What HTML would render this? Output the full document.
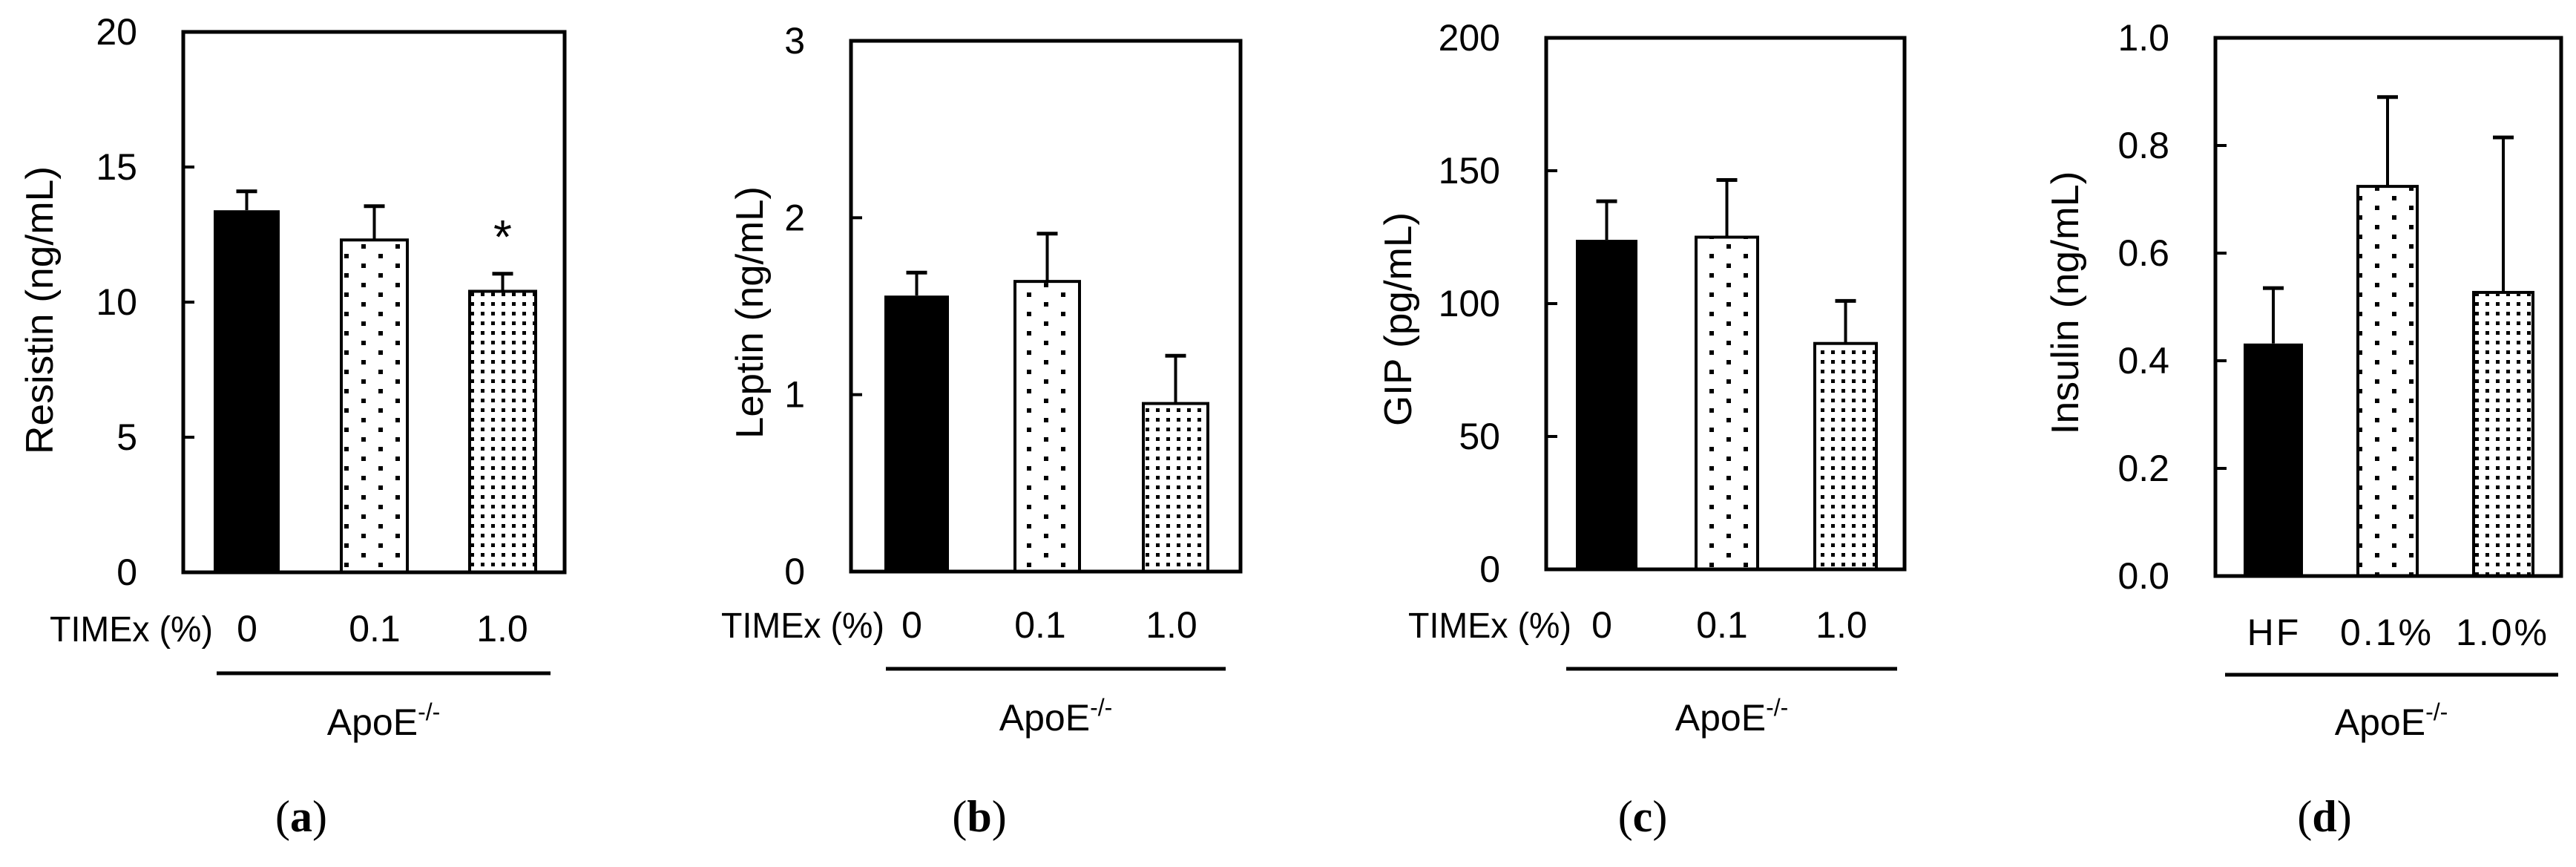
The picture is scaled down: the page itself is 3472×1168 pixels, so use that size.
<!DOCTYPE html>
<html><head><meta charset="utf-8">
<style>
html,body{margin:0;padding:0;background:#fff;}
svg{display:block;}
text{font-family:"Liberation Sans",sans-serif;fill:#000;}
</style></head>
<body>
<svg id="fig" width="3472" height="1168" viewBox="0 0 3472 1168" xmlns="http://www.w3.org/2000/svg">
<defs>
<pattern id="sparse" patternUnits="userSpaceOnUse" width="46" height="26">
<rect x="4" y="4" width="6" height="6" fill="#000"/>
<rect x="27" y="17" width="6" height="6" fill="#000"/>
</pattern>
<pattern id="dense" patternUnits="userSpaceOnUse" width="14" height="13">
<rect x="4" y="4" width="5" height="5" fill="#000"/>
</pattern>
</defs>
</svg>
<script>
// Panel data
const groupLabelsA = ["0","0.1","1.0"];
const groupLabelsD = ["HF","0.1%","1.0%"];
const resistinValues = [13.4, 12.3, 10.4];
const resistinErrors = [0.7, 1.25, 0.65];
const leptinValues = [1.56, 1.64, 0.95];
const leptinErrors = [0.13, 0.27, 0.27];
const gipValues = [124, 125, 85];
const gipErrors = [14.5, 21.5, 16];
const insulinValues = [0.432, 0.724, 0.527];
const insulinErrors = [0.103, 0.166, 0.288];
const resistinTicks = [0,5,10,15,20];
const leptinTicks = [0,1,2,3];
const gipTicks = [0,50,100,150,200];
const insulinTicks = ["0.0","0.2","0.4","0.6","0.8","1.0"];

const NS="http://www.w3.org/2000/svg";
const svg=document.getElementById('fig');
function mk(tag,attrs,parent){const e=document.createElementNS(NS,tag);for(const k in attrs)e.setAttribute(k,attrs[k]);(parent||svg).appendChild(e);return e;}

const panels=[
 {id:"a",title:"Resistin (ng/mL)",vals:resistinValues,errs:resistinErrors,ticks:resistinTicks,max:20,
  box:[247,761,43,771],barX:[288,460,633],barW:89,ylabX:53,ylabY:418,ylabLen:388,
  groups:groupLabelsA,timex:[67,847],grpX:[333,505,677],grpY:847,line:[292,742,907],apo:[517,990],letter:[406,1100],star:2},
 {id:"b",title:"Leptin (ng/mL)",vals:leptinValues,errs:leptinErrors,ticks:leptinTicks,max:3,
  box:[1147,1672,55,770],barX:[1192,1368,1541],barW:87,ylabX:1010,ylabY:421,ylabLen:340,
  groups:groupLabelsA,timex:[972,842],grpX:[1229,1402,1579],grpY:842,line:[1194,1652,901],apo:[1423,984],letter:[1320,1100]},
 {id:"c",title:"GIP (pg/mL)",vals:gipValues,errs:gipErrors,ticks:gipTicks,max:200,
  box:[2084,2567,51,767],barX:[2124,2286,2446],barW:83,ylabX:1884,ylabY:430,ylabLen:288,
  groups:groupLabelsA,timex:[1898,842],grpX:[2159,2321,2482],grpY:842,line:[2111,2557,901],apo:[2334,984],letter:[2214,1100]},
 {id:"d",title:"Insulin (ng/mL)",vals:insulinValues,errs:insulinErrors,ticks:insulinTicks,max:1,
  box:[2986,3452,51,776],barX:[3024,3178,3334],barW:80,ylabX:2783,ylabY:408,ylabLen:355,
  groups:groupLabelsD,timex:null,grpX:[3065,3217,3373],grpY:852,line:[2999,3448,909],apo:[3223,990],letter:[3133,1100]}
];
const fills=["#000","url(#sparse)","url(#dense)"];

panels.forEach(p=>{
  const g=mk('g',{});
  
  
  const [L,R,T,B]=p.box;
  const y=v=>B-(v/p.max)*(B-T);
  p.vals.forEach((v,i)=>{
    const x=p.barX[i],w=p.barW;
    const e=p.errs[i];
    const ey=y(v+e);
    const cx=x+w/2;
    const el=mk('line',{x1:cx,x2:cx,y1:y(v),y2:ey,stroke:"#000","stroke-width":4},g);
    
    
    const cap=mk('line',{x1:cx-14,x2:cx+14,y1:ey,y2:ey,stroke:"#000","stroke-width":5},g);
    
    
    const r=mk('rect',{x:x,y:y(v),width:w,height:B-y(v),fill:"#fff",stroke:"#000","stroke-width":i===0?0:4},g);
    
    
    const r2=mk('rect',{x:x+2,y:y(v)+2,width:w-4,height:B-y(v)-2,fill:fills[i]},g);
    
    
    if(i===0){r2.setAttribute('x',x);r2.setAttribute('y',y(v));r2.setAttribute('width',w);r2.setAttribute('height',B-y(v));}
  });
  const bx=mk('rect',{x:L,y:T,width:R-L,height:B-T,fill:"none",stroke:"#000","stroke-width":5},g);
  
  
  p.ticks.forEach(t=>{
    const v=parseFloat(t), ty=y(v);
    if(v>0&&v<p.max){const tk=mk('line',{x1:L,x2:L+15,y1:ty,y2:ty,stroke:"#000","stroke-width":4},g);
      
      }
    const tl=mk('text',{x:L-62,y:ty+17,"font-size":50,"text-anchor":"end"},g);
    tl.textContent=String(t);
    
    
  });
  const yt=mk('text',{x:0,y:0,"font-size":52,"text-anchor":"middle",transform:`translate(${p.ylabX+18},${p.ylabY}) rotate(-90)`,textLength:p.ylabLen,lengthAdjust:"spacingAndGlyphs"},g);
  yt.textContent=p.title;
  
  
  if(p.timex){const tx=mk('text',{x:p.timex[0],y:p.timex[1]+17,"font-size":48,textLength:220,lengthAdjust:"spacingAndGlyphs"},g);
    tx.textContent="TIMEx (%)";
    
    }
  p.groups.forEach((s,i)=>{
    const t=mk('text',{x:p.grpX[i],y:p.grpY+17,"font-size":50,"text-anchor":"middle","letter-spacing":p.id==="d"?3:0},g);
    t.textContent=s;
    
    
  });
  const ln=mk('line',{x1:p.line[0],x2:p.line[1],y1:p.line[2],y2:p.line[2],stroke:"#000","stroke-width":5},g);
  
  
  const ap=mk('text',{x:p.apo[0],y:p.apo[1],"font-size":50,"text-anchor":"middle"},g);
  ap.innerHTML='ApoE<tspan font-size="32" dy="-20">-/-</tspan>';
  
  
  const lt=mk('text',{x:p.letter[0],y:p.letter[1]+20,"font-size":60,"text-anchor":"middle"},g);
  lt.innerHTML='(<tspan font-weight="bold">'+p.id+'</tspan>)';
  lt.style.fontFamily='"Liberation Serif",serif';
  
  
  if(p.star!==undefined){
    const i=p.star;
    const st=mk('text',{x:p.barX[i]+p.barW/2,y:y(p.vals[i]+p.errs[i])-28,"font-size":64,"text-anchor":"middle"},g);
    st.textContent="*";
    
    
  }
});
</script>
</body></html>
